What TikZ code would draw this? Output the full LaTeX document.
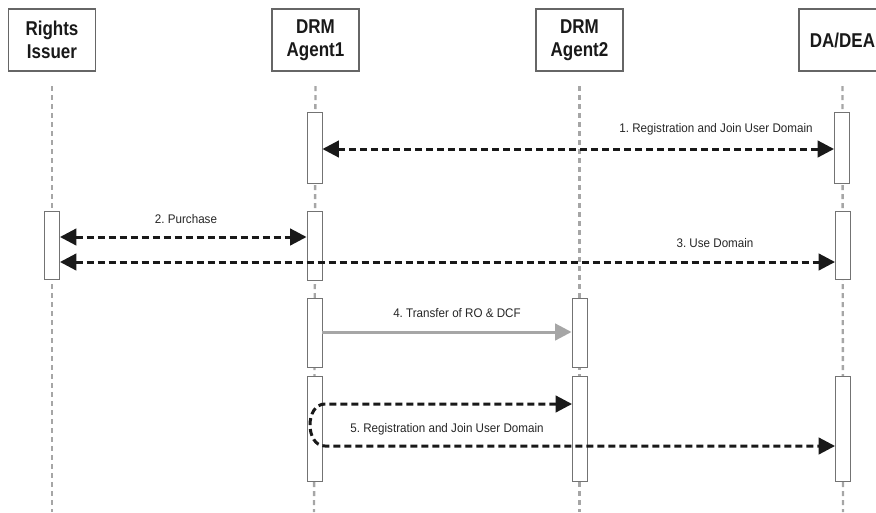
\documentclass[tikz,border=0pt]{standalone}
\usepackage{fontspec}
\setmainfont{Liberation Sans}
\newfontfamily\headfont[FakeStretch=0.85]{Liberation Sans}
\newfontfamily\lblfont[FakeStretch=0.93]{Liberation Sans}
\usetikzlibrary{arrows.meta}
\begin{document}
\begin{tikzpicture}[x=1pt,y=-1pt,
  head/.style={draw=black!60,line width=1.1pt,fill=white,minimum width=87pt,minimum height=62pt,
    inner sep=0pt,font=\headfont\fontsize{20}{23}\selectfont\bfseries,text=black!90,align=center},
  life/.style={draw=black!35,line width=2.4pt,dash pattern=on 5pt off 4pt},
  act/.style={draw=black!55,line width=0.9pt,fill=white,minimum width=15pt,inner sep=0pt},
  msg/.style={line width=3pt,dash pattern=on 7pt off 4pt,black!90,
    {Triangle[length=16.5pt,width=16.5pt]}-{Triangle[length=16.5pt,width=16.5pt]}},
  lbl/.style={font=\lblfont\fontsize{12.5}{14}\selectfont\frenchspacing,text=black!85,inner sep=0pt}]
\useasboundingbox (0,0) rectangle (876,512);
\clip (0,0) rectangle (876,512);
% header boxes
\node[head] (ri) at (52,40) {Rights\\Issuer};
\node[head] (a1) at (315.5,40) {DRM\\Agent1};
\node[head] (a2) at (579.5,40) {DRM\\Agent2};
\node[head] (da) at (842.5,40) {DA/DEA};
% lifeline ends
\coordinate (riE) at (52,512);
\coordinate (a1E) at (314,512);
\coordinate (a2E) at (579.5,512);
\coordinate (daE) at (843,512);
\draw[life] (ri.south |- 0,86) -- (riE);
\draw[life] (a1.south |- 0,86) -- (a1E);
\draw[life] (a2.south |- 0,86) -- (a2E);
\draw[life] (da.south |- 0,86) -- (daE);
% activation boxes
\node[act,minimum height=71pt] (a1b1) at (314.5,147.5) {};
\node[act,minimum height=71pt] (dab1) at (842,147.5) {};
\node[act,minimum height=68pt] (rib1) at (52,245) {};
\node[act,minimum height=69pt] (a1b2) at (314.5,245.5) {};
\node[act,minimum height=68pt] (dab2) at (843,245) {};
\node[act,minimum height=69pt] (a1b3) at (314.5,332.5) {};
\node[act,minimum height=69pt] (a2b1) at (579.5,332.5) {};
\node[act,minimum height=105pt] (a1b4) at (314.5,428.5) {};
\node[act,minimum height=105pt] (a2b2) at (580,428.5) {};
\node[act,minimum height=105pt] (dab3) at (843,428.5) {};
% message end points
\coordinate (m1s) at (a1b1.east |- 0,149);
\coordinate (m1e) at (dab1.west |- 0,149);
\coordinate (m2s) at (rib1.east |- 0,237);
\coordinate (m2e) at (a1b2.west |- 0,237);
\coordinate (m3s) at (rib1.east |- 0,262);
\coordinate (m3e) at (dab2.west |- 0,262);
\coordinate (m4s) at (a1b3.east |- 0,332);
\coordinate (m4e) at (a2b1.west |- 0,332);
\coordinate (m5s) at (a2b2.west |- 0,404);
\coordinate (m5a) at (325,404);
\coordinate (m5b) at (325,446);
\coordinate (m5e) at (dab3.west |- 0,446);
% messages
\draw[msg] (m1s) -- (m1e);
\draw[msg] (m2s) -- (m2e);
\draw[msg] (m3s) -- (m3e);
\draw[line width=3pt,black!35,-{Triangle[length=16.5pt,width=16.5pt]}] (m4s) -- (m4e);
\draw[msg] (m5s) -- (m5a) .. controls (305,404) and (305,446) .. (m5b) -- (m5e);
% labels
\node[lbl] (l1) at (716,129) {1. Registration and Join User Domain};
\node[lbl] (l2) at (186,219) {2. Purchase};
\node[lbl] (l3) at (715,243) {3. Use Domain};
\node[lbl] (l4) at (457,313) {4. Transfer of RO \& DCF};
\node[lbl] (l5) at (447,429) {5. Registration and Join User Domain};
\end{tikzpicture}
\end{document}
